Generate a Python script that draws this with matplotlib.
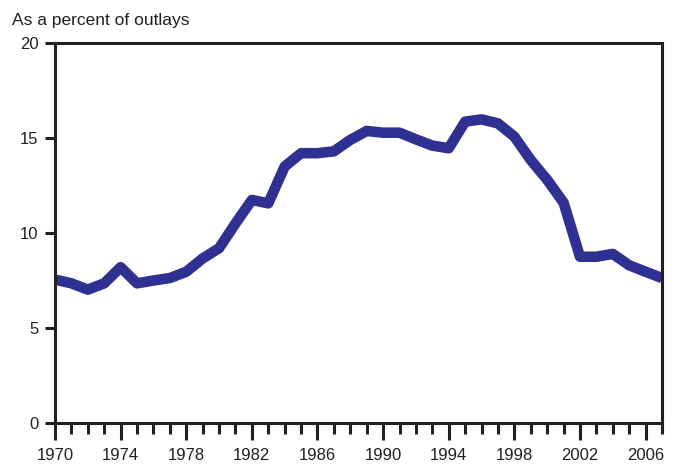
import numpy as np
import matplotlib
matplotlib.use("Agg")
import matplotlib.pyplot as plt
from matplotlib.ticker import MultipleLocator

plt.rcParams["font.family"] = ["Liberation Sans", "DejaVu Sans"]

# federal outlays share
years = list(range(1970, 2008))
pct = [7.55, 7.35, 7.02, 7.35, 8.2, 7.35, 7.5, 7.63, 7.96, 8.66,
       9.2, 10.5, 11.74, 11.56, 13.5, 14.2, 14.2, 14.3, 14.9, 15.37,
       15.28, 15.28, 14.93, 14.6, 14.46, 15.86, 15.98, 15.77, 15.07, 13.84,
       12.8, 11.6, 8.75, 8.75, 8.9, 8.3, 7.96, 7.63]
year_labels = [str(y) for y in range(1970, 2007, 4)]
y_ticks = [0, 5, 10, 15, 20]

fig = plt.figure(figsize=(6.76, 4.66), dpi=100)
ax = fig.add_axes([55 / 676, 43 / 466, 607 / 676, 380 / 466])

ax.plot(years, pct, color="#2E3192", lw=7.6, solid_joinstyle="round",
        solid_capstyle="butt", zorder=3)

ax.set_xlim(1970, 2007)
ax.set_ylim(0, 20)
ax.set_xticks(range(1970, 2007, 4))
ax.set_xticklabels(year_labels)
ax.xaxis.set_minor_locator(MultipleLocator(1))
ax.set_yticks(y_ticks)
ax.set_yticklabels([str(v) for v in y_ticks])

for sp in ax.spines.values():
    sp.set_linewidth(2.2)
    sp.set_color("#231f20")
    sp.set_zorder(4)

ax.tick_params(axis="x", which="major", length=12, width=2.2, direction="out",
               color="#231f20", labelsize=12, pad=6, labelcolor="#231f20")
ax.tick_params(axis="x", which="minor", length=8, width=2.2, direction="out",
               color="#231f20")
ax.tick_params(axis="y", which="major", length=7, width=2.2, direction="out",
               color="#231f20", labelsize=12, pad=5, labelcolor="#231f20")

fig.text(12 / 676, 1 - 20 / 466, "As a percent of outlays", fontsize=12.5,
         color="#231f20", va="center", ha="left")

fig.savefig("out.png", dpi=100)
